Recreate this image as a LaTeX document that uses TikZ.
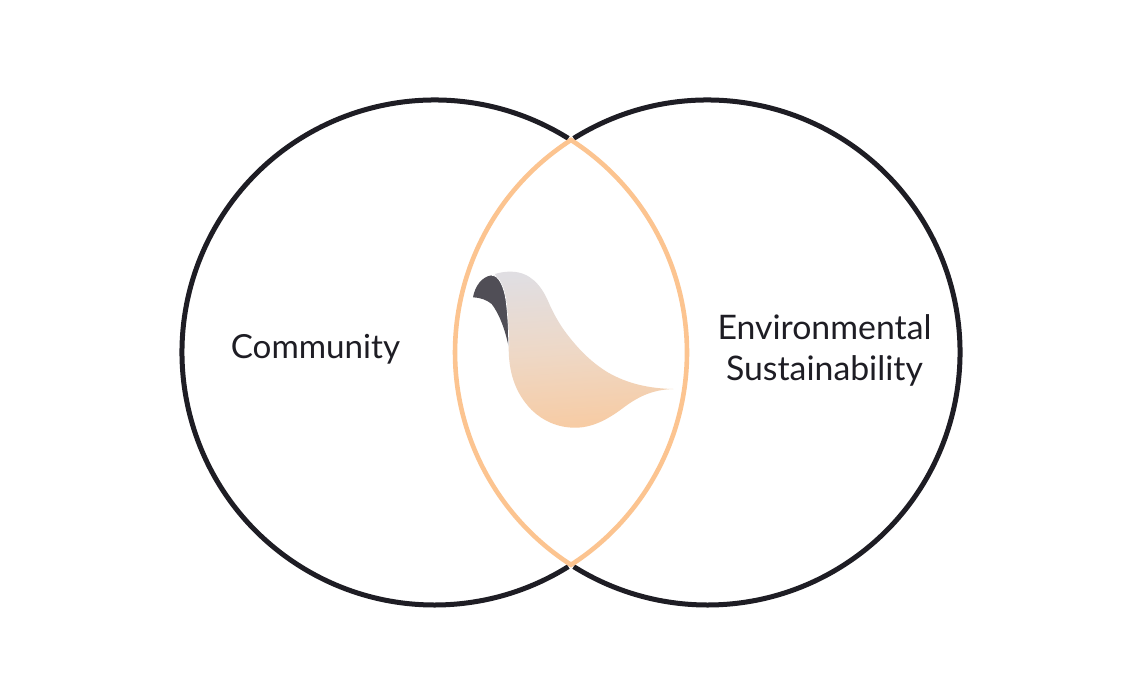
\documentclass[tikz,border=0pt]{standalone}
\usepackage{fontspec}
\setmainfont{Lato}
\definecolor{ink}{RGB}{30,29,36}
\definecolor{peach}{RGB}{252,196,144}
\definecolor{birdgrey}{RGB}{224,222,226}
\definecolor{birdmid}{RGB}{238,216,198}
\definecolor{birdorange}{RGB}{247,203,163}
\definecolor{birddark}{RGB}{80,78,86}
\tikzset{
  ring/.style={draw=ink,line width=5pt,line cap=butt},
  lens/.style={draw=peach,line width=4.6pt,line join=miter,miter limit=10},
  lbl/.style={text=ink,align=center,inner sep=0pt}
}
\begin{document}
\begin{tikzpicture}[x=1pt,y=-1pt]
\useasboundingbox (0,0) rectangle (1139,691);
\fill[white] (0,0) rectangle (1139,691);
\coordinate (cl) at (434.5,352.5);
\coordinate (cr) at (707.5,352.5);
\def\R{252.5}
\draw[ring] ([shift={(-58.0:\R)}]cl) arc[start angle=-58.0,end angle=-302.0,radius=\R];
\draw[ring] ([shift={(-122.0:\R)}]cr) arc[start angle=-122.0,end angle=122.0,radius=\R];
\draw[lens] (571,140) arc[start angle=-57.27,end angle=57.27,radius=\R]
            arc[start angle=122.73,end angle=237.27,radius=\R] -- cycle;
% bird body
\path[shade,top color=birdgrey,bottom color=birdorange,middle color=birdmid,shading angle=4]
  (495,274) .. controls (500,272.3) and (506,271.5) .. (512,271.7)
  .. controls (530,272.3) and (541,285) .. (548,301)
  .. controls (554,315) and (561,327) .. (570,338)
  .. controls (582,353) and (594,364) .. (608,372.5)
  .. controls (628,384) and (650,388.5) .. (673.3,389)
  .. controls (655,389.5) and (640,395) .. (623,408)
  .. controls (607,420) and (592,427.7) .. (575,427.7)
  .. controls (558,427.7) and (543,421) .. (531.7,410)
  .. controls (514,392) and (508.5,370) .. (508.7,346.7)
  .. controls (508.5,325) and (507,298) .. (495,274) -- cycle;
% bird head
\fill[birddark]
  (473,297.3) .. controls (475,286) and (482,276.5) .. (491.7,275.3)
  .. controls (499,275) and (504,287) .. (506,300)
  .. controls (508,315) and (508.7,332) .. (508.7,346.7)
  .. controls (505,330) and (500,315) .. (491.7,304)
  .. controls (487,300) and (480,297.5) .. (473,297.3) -- cycle;
\draw[white,line width=0.7pt] (491.7,275.3) .. controls (499,275) and (504,287) .. (506,300)
  .. controls (508,315) and (508.7,332) .. (508.7,346.7);
% labels
\node[lbl,font=\fontsize{33.2}{41}\selectfont] (community) at (315.5,349) {Community};
\node[lbl,font=\fontsize{33.8}{41}\selectfont] (env) at (824.5,350.5) {Environmental\\Sustainability};
\end{tikzpicture}
\end{document}
